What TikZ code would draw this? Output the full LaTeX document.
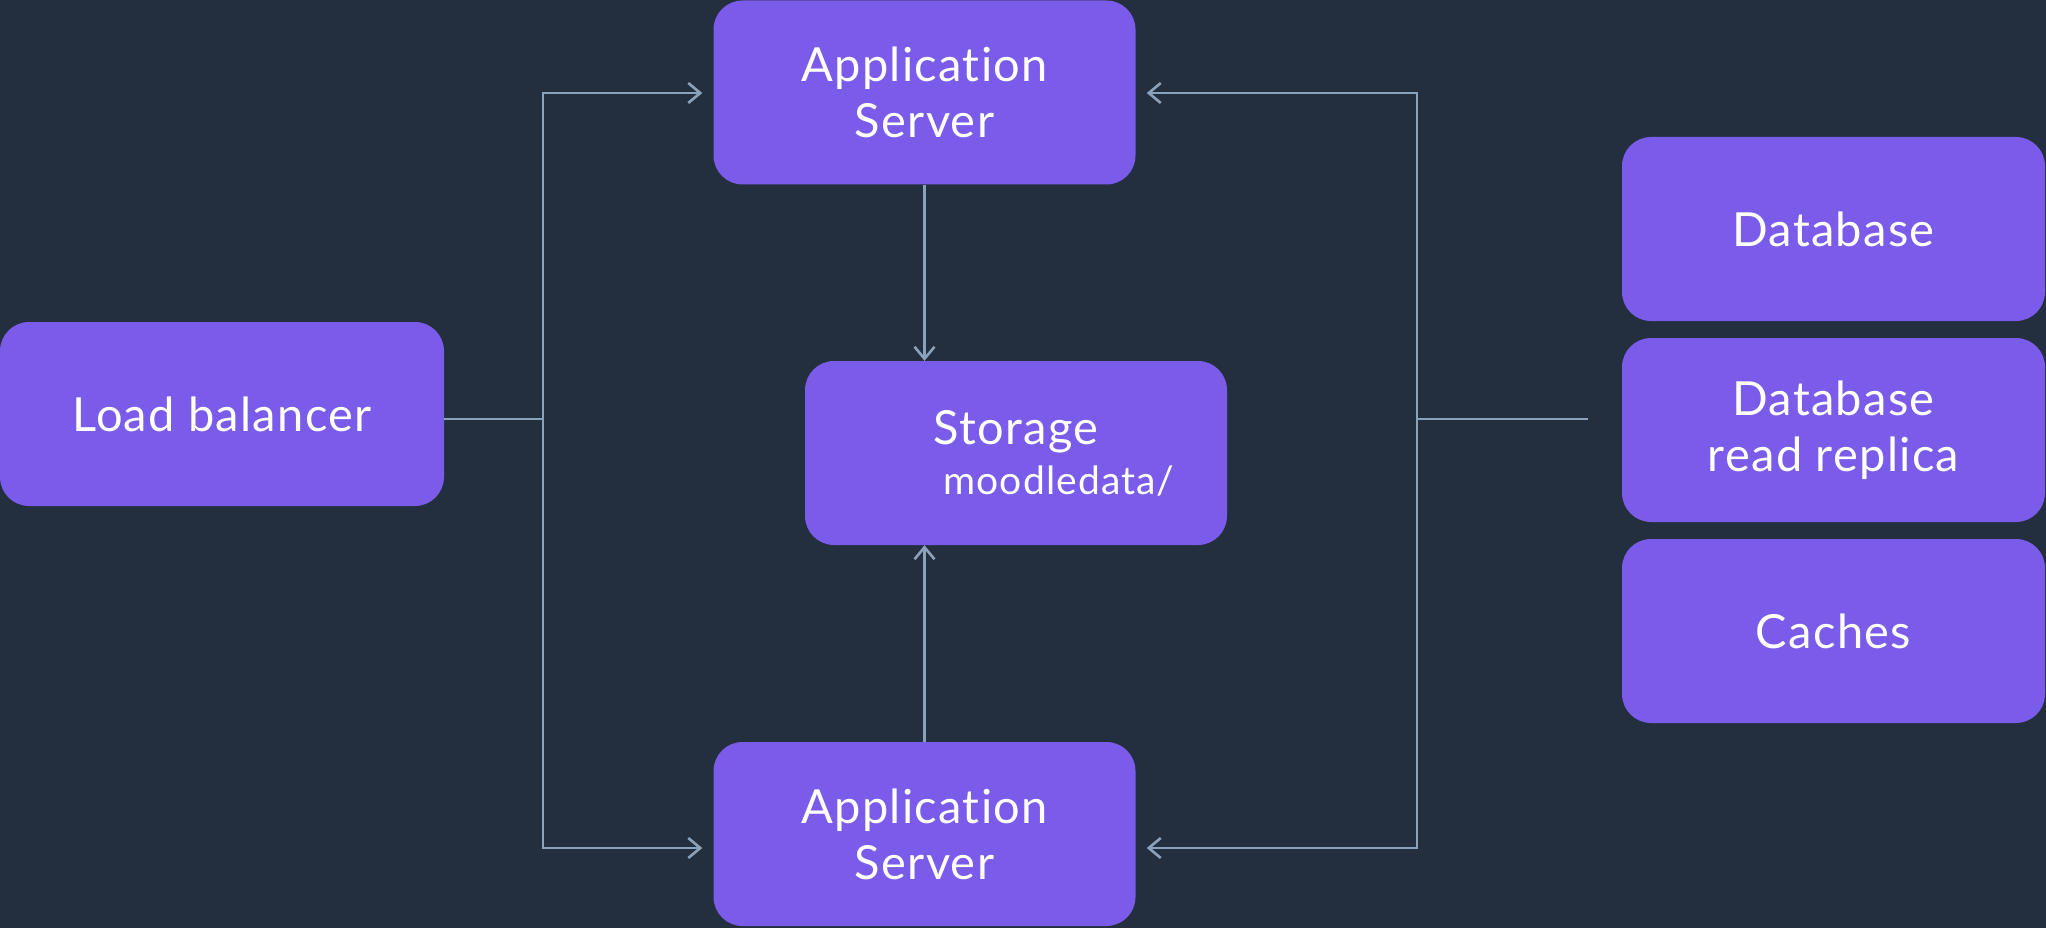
\documentclass[tikz,border=0pt]{standalone}
\usepackage{fontspec}
\setmainfont{Lato}[Ligatures=NoCommon, LetterSpace=2.8]
\usetikzlibrary{arrows.meta}
\definecolor{bg}{HTML}{232F3E}
\definecolor{boxfill}{HTML}{7B5BEA}
\definecolor{wire}{HTML}{8CA2BA}
\begin{document}
\begin{tikzpicture}[x=1pt,y=-1pt,
  block/.style={fill=boxfill, rounded corners=29pt, minimum width=422pt,
    minimum height=184pt, inner sep=0pt, text=white, align=center,
    font=\fontsize{47}{56}\selectfont},
  wireline/.style={draw=wire, line width=2.6pt},
  flow/.style={wireline, -{Straight Barb[length=12pt,width=20pt]}}]
  % canvas
  \fill[bg] (0,0) rectangle (2046,928);
  \useasboundingbox (0,0) rectangle (2046,928);

  % blocks
  \node[block, minimum width=444pt] (lb) at (222,414) {Load balancer};
  \node[block] (app1) at (924.5,92.5) {Application\\Server};
  \node[block] (app2) at (924.5,834) {Application\\Server};
  \node[block, minimum width=422pt] (store) at (1016,453)
    {Storage\\[-6pt]{\fontsize{39}{46}\selectfont\hspace*{86pt}moodledata/}};
  \node[block, minimum width=423pt] (db) at (1833.5,229) {Database};
  \node[block, minimum width=423pt] (rep) at (1833.5,430) {Database\\read replica};
  \node[block, minimum width=423pt] (cache) at (1833.5,631) {Caches};

  % bus junctions
  \coordinate (lbus) at (543,419);
  \coordinate (rbus) at (1417,419);
  \coordinate (rend) at (1588,419);
  \coordinate (ytop) at (0,93);
  \coordinate (ybot) at (0,848);

  % load balancer fan-out
  \draw[wireline] (lb.east |- lbus) -- (lbus);
  \draw[flow, shorten >=11pt] (lbus) |- (app1.west |- ytop);
  \draw[flow, shorten >=11pt] (lbus) |- (app2.west |- ybot);

  % data tier fan-out
  \draw[wireline] (rbus) -- (rend);
  \draw[flow, shorten >=11pt] (rbus) |- (app1.east |- ytop);
  \draw[flow, shorten >=11pt] (rbus) |- (app2.east |- ybot);

  % shared storage
  \draw[flow] (app1.south) -- (app1.south |- store.north);
  \draw[flow] (app2.north) -- (app2.north |- store.south);
\end{tikzpicture}
\end{document}
